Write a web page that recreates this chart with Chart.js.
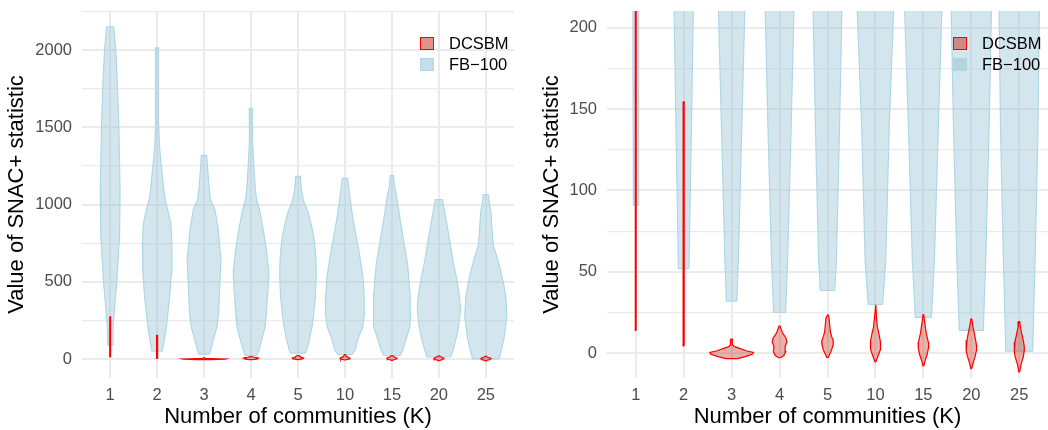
<!DOCTYPE html>
<html>
<head>
<meta charset="utf-8">
<script src="https://cdn.jsdelivr.net/npm/chart.js@4"></script>
<style>
  body { margin: 0; background: #fff; }
  .panel { position: absolute; top: 0; width: 524px; height: 430px; }
  .legend { position: absolute; font-family: "Liberation Sans", Arial, sans-serif; font-size: 16.5px; color: #000; }
  .item { display: flex; align-items: center; height: 21px; }
  .key { width: 12px; height: 11px; margin-right: 15px; }
</style>
</head>
<body>
<div class="panel" style="left:0"><canvas id="leftChart" width="524" height="430"></canvas>
  <div class="legend" style="left:420px;top:33px"></div></div>
<div class="panel" style="left:524px"><canvas id="rightChart" width="524" height="430"></canvas>
  <div class="legend" style="left:429px;top:33px"></div></div>
<script>
const categories = ['1', '2', '3', '4', '5', '10', '15', '20', '25'];
const seriesNames = ['DCSBM', 'FB\u2212100'];

// violin outlines: values along each violin and its half-width (in category units)
const fbValues = [
  [91, 211, 350, 500, 800, 1100, 1500, 1770, 2000, 2150],
  [52, 137, 211, 300, 383, 558, 753, 883, 987, 1032, 1097, 1247, 1377, 1500, 2013],
  [32, 57, 137, 211, 300, 448, 643, 838, 968, 1032, 1097, 1250, 1318],
  [25, 57, 137, 211, 273, 448, 558, 700, 818, 968, 1032, 1097, 1150, 1247, 1400, 1623],
  [38.5, 57, 137, 211, 286, 400, 545, 650, 762, 860, 935, 985, 1032, 1100, 1182],
  [30, 57, 137, 211, 298, 400, 513, 620, 729, 840, 948, 1060, 1169],
  [22, 57, 137, 211, 300, 405, 520, 623, 730, 838, 950, 1054, 1120, 1188],
  [14, 57, 137, 211, 318, 405, 520, 621, 730, 838, 940, 1032],
  [1.2, 57, 137, 211, 275, 405, 500, 578, 660, 729, 800, 948, 1020, 1065]
];
const fbWidths = [
  [0.05, 0.06, 0.1, 0.14, 0.2, 0.21, 0.185, 0.155, 0.12, 0.075],
  [0.11, 0.16, 0.2, 0.23, 0.26, 0.305, 0.315, 0.29, 0.21, 0.17, 0.14, 0.09, 0.05, 0.035, 0.03],
  [0.108, 0.14, 0.21, 0.275, 0.31, 0.33, 0.36, 0.3, 0.23, 0.135, 0.11, 0.07, 0.057],
  [0.125, 0.167, 0.24, 0.3, 0.32, 0.36, 0.38, 0.33, 0.27, 0.18, 0.117, 0.09, 0.08, 0.06, 0.035, 0.03],
  [0.15, 0.185, 0.25, 0.3, 0.33, 0.37, 0.39, 0.38, 0.35, 0.29, 0.23, 0.17, 0.11, 0.07, 0.05],
  [0.15, 0.215, 0.285, 0.38, 0.415, 0.41, 0.39, 0.34, 0.28, 0.21, 0.15, 0.1, 0.057],
  [0.167, 0.23, 0.31, 0.385, 0.395, 0.39, 0.36, 0.33, 0.27, 0.21, 0.15, 0.1, 0.05, 0.035],
  [0.25, 0.3, 0.37, 0.42, 0.46, 0.44, 0.38, 0.31, 0.25, 0.19, 0.13, 0.075],
  [0.28, 0.33, 0.39, 0.42, 0.45, 0.425, 0.37, 0.31, 0.24, 0.165, 0.14, 0.11, 0.07, 0.055]
];
const dcValues = [
  [14, 100, 273],
  [4.5, 40, 154.5],
  [-3.3, -2, -0.5, 0.5, 1.5, 2.8, 4, 5, 8.6],
  [-2.8, -1.5, 1, 4, 7, 9.5, 12.3, 15, 16.6],
  [-2.9, -1, 2, 5, 7.5, 10, 13, 18.5, 22, 23.6],
  [-5.3, -2, 2, 7, 12.3, 16, 20.5, 29.7],
  [-7.8, -5.2, -1, 3, 6.1, 9, 12.3, 18.5, 23.6],
  [-9.5, -6.2, -2, 1.5, 4.5, 8, 12.3, 17, 20.9],
  [-11.5, -7.2, -2, 1, 4, 7, 12.3, 16, 19.4]
];
const dcWidths = [
  [0.008, 0.01, 0.006],
  [0.012, 0.012, 0.008],
  [0.12, 0.3, 0.44, 0.455, 0.3, 0.18, 0.06, 0.025, 0.015],
  [0.02, 0.09, 0.13, 0.115, 0.155, 0.13, 0.065, 0.03, 0.01],
  [0.01, 0.04, 0.085, 0.115, 0.12, 0.09, 0.06, 0.042, 0.03, 0.01],
  [0.01, 0.05, 0.1, 0.105, 0.07, 0.04, 0.025, 0.008],
  [0.01, 0.03, 0.077, 0.105, 0.11, 0.085, 0.06, 0.03, 0.008],
  [0.01, 0.035, 0.08, 0.105, 0.11, 0.09, 0.063, 0.03, 0.01],
  [0.01, 0.035, 0.087, 0.1, 0.105, 0.09, 0.05, 0.025, 0.01]
];

const leftMajor = [0, 500, 1000, 1500, 2000];
const leftMinor = [250, 750, 1250, 1750, 2250];
const rightMajor = [0, 50, 100, 150, 200];
const rightMinor = [25, 75, 125, 175];

const FONT = '"Liberation Sans", Arial, sans-serif';
const fbFill = 'rgba(160,200,215,0.45)', fbLine = '#ADD8E6';
const dcFill = 'rgba(200,70,50,0.42)', dcLine = '#FF0000';

function violin(k, values, widths, fill, stroke) {
    let pts = [];
    values.forEach((v, i) => pts.push({x: k + widths[i], y: v}));
    for (let i = values.length - 1; i >= 0; i--) pts.push({x: k - widths[i], y: values[i]});
    pts.push({x: pts[0].x, y: pts[0].y});
    return {
        data: pts, showLine: true, fill: 'shape', tension: 0,
        backgroundColor: fill, borderColor: stroke, borderWidth: 1.2,
        pointRadius: 0, pointHoverRadius: 0
    };
}

function makeChart(id, ymin, ymax, major, minor, yAxisWidth, titlePad, padRight) {
    let datasets = [];
    categories.forEach((c, i) => datasets.push(violin(i + 1, dcValues[i], dcWidths[i], dcFill, dcLine)));
    categories.forEach((c, i) => datasets.push(violin(i + 1, fbValues[i], fbWidths[i], fbFill, fbLine)));
    let yticks = major.concat(minor).sort((a, b) => a - b);

    return new Chart(document.getElementById(id), {
        type: 'scatter',
        data: {datasets: datasets},
        options: {
            responsive: false,
            animation: false,
            layout: {padding: {top: 11, right: padRight, left: 0, bottom: 0}},
            scales: {
                x: {
                    type: 'linear', min: 0.4, max: 9.6,
                    afterBuildTicks: s => { s.ticks = categories.map((c, i) => ({value: i + 1})); },
                    afterFit: s => { s.height = 52; s.paddingLeft = 0; s.paddingRight = 0; },
                    ticks: {
                        callback: v => categories[v - 1],
                        autoSkip: false, maxRotation: 0, padding: 8,
                        color: '#4D4D4D', font: {family: FONT, size: 16.5}
                    },
                    grid: {color: '#EBEBEB', lineWidth: 2, drawTicks: false},
                    border: {display: false},
                    title: {
                        display: true, text: 'Number of communities (K)', color: '#000',
                        font: {family: FONT, size: 22}, padding: {top: 0, bottom: 0}
                    }
                },
                y: {
                    min: ymin, max: ymax,
                    afterBuildTicks: s => { s.ticks = yticks.map(v => ({value: v})); },
                    afterFit: s => { s.width = yAxisWidth; s.paddingTop = 0; s.paddingBottom = 0; },
                    ticks: {
                        callback: v => major.includes(v) ? String(v) : '',
                        padding: 10, color: '#4D4D4D', font: {family: FONT, size: 16.5}
                    },
                    grid: {
                        color: '#EBEBEB', drawTicks: false,
                        lineWidth: ctx => major.includes(ctx.tick.value) ? 2 : 1.2
                    },
                    border: {display: false},
                    title: {
                        display: true, text: 'Value of SNAC+ statistic', color: '#000',
                        font: {family: FONT, size: 22}, padding: {top: titlePad, bottom: 0}
                    }
                }
            },
            plugins: {
                legend: {display: false},
                tooltip: {enabled: false}
            }
        }
    });
}

let leftChart = makeChart('leftChart', -122, 2252, leftMajor, leftMinor, 82, 4, 10);
let rightChart = makeChart('rightChart', -15.25, 210.25, rightMajor, rightMinor, 83, 15, 0);

// legends drawn inside the panels, as in the original
const keyStyles = [
    'background:rgba(200,60,45,0.55);border:1.5px solid #FF0000;',
    'background:rgba(160,200,215,0.6);border:1px solid rgba(173,216,230,0.9);'
];
document.querySelectorAll('.legend').forEach(el => {
    el.innerHTML = seriesNames.map((n, i) =>
        '<div class="item"><span class="key" style="' + keyStyles[i] + '"></span>' + n + '</div>').join('');
});
</script>
</body>
</html>
